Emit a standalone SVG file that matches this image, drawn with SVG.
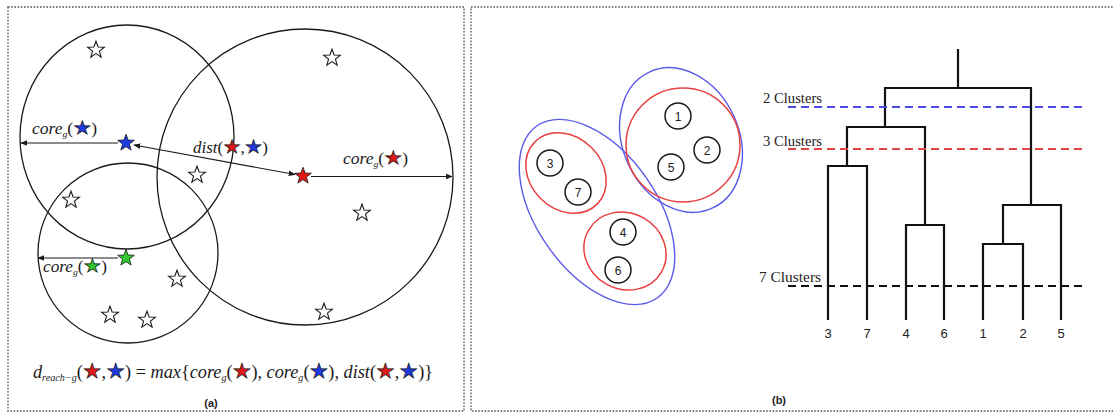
<svg xmlns="http://www.w3.org/2000/svg" width="1113" height="414" viewBox="0 0 1113 414">
<style>
.border{fill:none;stroke:#808080;stroke-width:1.8;stroke-dasharray:1.6 1.6}
.ring{fill:none;stroke:#1a1a1a;stroke-width:1.3}
.arrow{fill:none;stroke:#1a1a1a;stroke-width:1.2}
.ws{fill:#fff;stroke:#1a1a1a;stroke-width:1.1}
.cs{stroke:#1a1a1a;stroke-width:0.8}
.math{font-family:"Liberation Serif","DejaVu Serif",serif;font-style:italic;fill:#1a1a1a}
.up{font-style:normal}
.st{font-family:"DejaVu Sans",sans-serif;font-style:normal;font-size:1.15em;stroke:#1a1a1a;stroke-width:0.7}
.blue{fill:#1f3ae0}.red{fill:#e01818}.green{fill:#2ec82e}
.cap{font-family:"Liberation Sans",Arial,sans-serif;font-weight:bold;font-size:11px;fill:#222;text-anchor:middle}
.node circle{fill:#fff;stroke:#1a1a1a;stroke-width:1.5}
.node text{font-family:"Liberation Sans",Arial,sans-serif;font-size:12px;fill:#222;text-anchor:middle}
.bl{fill:none;stroke:#5a5ae8;stroke-width:1.4}
.rd{fill:none;stroke:#e8403f;stroke-width:1.5}
.dend{fill:none;stroke:#111;stroke-width:2.2}
.cut{fill:none;stroke-width:2.2;stroke-dasharray:8 5}
.clab{font-family:"Liberation Serif","Times New Roman",serif;font-size:14px;fill:#222}
.leaf{font-family:"Liberation Sans",Arial,sans-serif;font-size:13px;fill:#222;text-anchor:middle}
</style>
<defs>
<marker id="ah" viewBox="0 0 10 10" refX="9" refY="5" markerWidth="7" markerHeight="7" orient="auto-start-reverse" markerUnits="userSpaceOnUse">
<path d="M0,1 L10,5 L0,9 Z" fill="#1a1a1a"/>
</marker>
<path id="star" d="M0,-8.8 L2.13,-2.94 L8.37,-2.72 L3.45,1.12 L5.17,7.12 L0,3.63 L-5.17,7.12 L-3.45,1.12 L-8.37,-2.72 L-2.13,-2.94 Z"/>
</defs>

<g id="panel-a">
<rect class="border" x="8" y="7" width="456" height="404"/>
<ellipse class="ring" cx="127" cy="137" rx="107" ry="112"/>
<circle class="ring" cx="305" cy="177" r="148"/>
<circle class="ring" cx="128" cy="253" r="90"/>

<g id="white-stars">
<use href="#star" class="ws" x="96" y="50"/>
<use href="#star" class="ws" x="332" y="58"/>
<use href="#star" class="ws" x="197" y="175"/>
<use href="#star" class="ws" x="71" y="200"/>
<use href="#star" class="ws" x="362" y="213"/>
<use href="#star" class="ws" x="177" y="279"/>
<use href="#star" class="ws" x="110" y="315"/>
<use href="#star" class="ws" x="147" y="320"/>
<use href="#star" class="ws" x="324" y="312"/>
</g>

<g id="connectors-a">
<line class="arrow" x1="118" y1="143" x2="21" y2="143" marker-end="url(#ah)"/>
<line class="arrow" x1="134" y1="145" x2="295" y2="174.5" marker-start="url(#ah)" marker-end="url(#ah)"/>
<line class="arrow" x1="311" y1="176.5" x2="452" y2="176.5" marker-end="url(#ah)"/>
<line class="arrow" x1="118" y1="258" x2="38" y2="258" marker-end="url(#ah)"/>
</g>

<g id="core-stars">
<use href="#star" class="cs blue" x="126" y="143"/>
<use href="#star" class="cs red" x="303" y="176"/>
<use href="#star" class="cs green" x="126" y="258"/>
</g>

<text class="math" x="32" y="134" font-size="16" textLength="65" lengthAdjust="spacingAndGlyphs">core<tspan font-size="9" dy="3">g</tspan><tspan class="up" dy="-3">(</tspan><tspan class="st blue">★</tspan><tspan class="up">)</tspan></text>
<text class="math" x="193" y="153" font-size="16" textLength="75" lengthAdjust="spacingAndGlyphs">dist<tspan class="up">(</tspan><tspan class="st red">★</tspan><tspan class="up">,</tspan><tspan class="st blue">★</tspan><tspan class="up">)</tspan></text>
<text class="math" x="343" y="164" font-size="16" textLength="65" lengthAdjust="spacingAndGlyphs">core<tspan font-size="9" dy="3">g</tspan><tspan class="up" dy="-3">(</tspan><tspan class="st red">★</tspan><tspan class="up">)</tspan></text>
<text class="math" x="43" y="272" font-size="16" textLength="64" lengthAdjust="spacingAndGlyphs">core<tspan font-size="9" dy="3">g</tspan><tspan class="up" dy="-3">(</tspan><tspan class="st green">★</tspan><tspan class="up">)</tspan></text>

<text class="math" x="33" y="378" font-size="18" textLength="400" lengthAdjust="spacingAndGlyphs">d<tspan font-size="10" dy="3">reach−g</tspan><tspan class="up" dy="-3">(</tspan><tspan class="st red">★</tspan><tspan class="up">,</tspan><tspan class="st blue">★</tspan><tspan class="up">) = </tspan>max<tspan class="up">{</tspan>core<tspan font-size="10" dy="3">g</tspan><tspan class="up" dy="-3">(</tspan><tspan class="st red">★</tspan><tspan class="up">), </tspan>core<tspan font-size="10" dy="3">g</tspan><tspan class="up" dy="-3">(</tspan><tspan class="st blue">★</tspan><tspan class="up">), </tspan>dist<tspan class="up">(</tspan><tspan class="st red">★</tspan><tspan class="up">,</tspan><tspan class="st blue">★</tspan><tspan class="up">)}</tspan></text>
<text class="cap" x="211" y="407">(a)</text>
</g>

<g id="panel-b">
<rect class="border" x="471" y="7" width="660" height="404"/>
<g id="cluster-ellipses">
<ellipse class="bl" cx="597" cy="212" rx="105" ry="60" transform="rotate(55 597 212)"/>
<ellipse class="bl" cx="681" cy="140" rx="75" ry="58" transform="rotate(65 681 140)"/>
<circle class="rd" cx="683" cy="145" r="57"/>
<ellipse class="rd" cx="566" cy="173" rx="44" ry="36" transform="rotate(45 566 173)"/>
<ellipse class="rd" cx="625" cy="251" rx="42" ry="38" transform="rotate(30 625 251)"/>
</g>
<g id="n1" class="node"><circle cx="678" cy="116" r="13"/><text x="678" y="120.5">1</text></g>
<g id="n2" class="node"><circle cx="707" cy="150" r="13"/><text x="707" y="154.5">2</text></g>
<g id="n5" class="node"><circle cx="671" cy="167" r="13"/><text x="671" y="171.5">5</text></g>
<g id="n3" class="node"><circle cx="550" cy="163" r="13"/><text x="550" y="167.5">3</text></g>
<g id="n7" class="node"><circle cx="578" cy="192" r="13"/><text x="578" y="196.5">7</text></g>
<g id="n4" class="node"><circle cx="623" cy="232" r="13"/><text x="623" y="236.5">4</text></g>
<g id="n6" class="node"><circle cx="618" cy="270" r="13"/><text x="618" y="274.5">6</text></g>

<g id="dendrogram">
<path class="dend" d="M958,49 V88 M885,127 V88 H1031 V205 M847,166 V127 H925 V225 M828,320 V166 H867 V320 M906,320 V225 H944 V320 M1003,244 V205 H1061 V320 M983,320 V244 H1023 V320"/>
</g>
<g id="cuts">
<line class="cut" x1="788" y1="107" x2="1087" y2="107" stroke="#4a4ae6"/>
<line class="cut" x1="788" y1="149" x2="1087" y2="149" stroke="#e04444"/>
<line class="cut" x1="788" y1="286" x2="1087" y2="286" stroke="#111" stroke-width="2.6"/>
</g>
<text class="clab" x="763" y="103" textLength="59" lengthAdjust="spacingAndGlyphs">2 Clusters</text>
<text class="clab" x="763" y="146" textLength="59" lengthAdjust="spacingAndGlyphs">3 Clusters</text>
<text class="clab" x="759" y="282" textLength="62" lengthAdjust="spacingAndGlyphs">7 Clusters</text>
<g id="leaves">
<text class="leaf" x="828" y="338">3</text>
<text class="leaf" x="867" y="338">7</text>
<text class="leaf" x="906" y="338">4</text>
<text class="leaf" x="944" y="338">6</text>
<text class="leaf" x="983" y="338">1</text>
<text class="leaf" x="1023" y="338">2</text>
<text class="leaf" x="1061" y="338">5</text>
</g>
<text class="cap" x="779" y="404">(b)</text>
</g>
</svg>
